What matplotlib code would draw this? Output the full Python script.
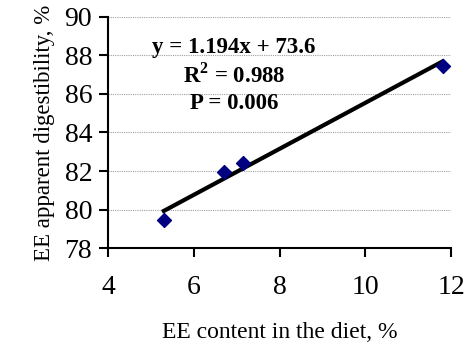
import matplotlib
matplotlib.use("Agg")
import matplotlib.pyplot as plt
import numpy as np

# data
ee_content = [5.3, 6.7, 7.15, 11.8]
ee_digest = [79.45, 81.95, 82.4, 87.45]
slope = 1.194
intercept = 73.6
x_ticks = [4, 6, 8, 10, 12]
y_ticks = [78, 80, 82, 84, 86, 88, 90]

plt.rcParams["font.family"] = ["Liberation Serif", "DejaVu Serif"]
plt.rcParams["mathtext.fontset"] = "custom"
plt.rcParams["mathtext.rm"] = "Liberation Serif"
plt.rcParams["mathtext.bf"] = "Liberation Serif:bold"

fig = plt.figure(figsize=(4.66, 3.45), dpi=100)
ax = fig.add_axes([0.232, 0.281, 0.736, 0.670])

for y in y_ticks[1:]:
    ax.axhline(y, color="#a0a0a0", linestyle=(0, (1, 1)), linewidth=0.8, zorder=0)

x_fit = np.array([min(ee_content), max(ee_content)])
ax.plot(x_fit, slope * x_fit + intercept, color="black", linewidth=3, zorder=2)
ax.scatter(ee_content, ee_digest, marker="D", s=50, color="#000080", zorder=3)

ax.set_xlim(4, 12)
ax.set_ylim(78, 90)
ax.set_xticks(x_ticks)
ax.set_yticks(y_ticks)
ax.tick_params(axis="both", labelsize=20, width=1.5, length=6.5, direction="out")
ax.tick_params(axis="x", pad=13)
ax.tick_params(axis="y", pad=5)
ax.spines["top"].set_visible(False)
ax.spines["right"].set_visible(False)
ax.spines["left"].set_linewidth(1.5)
ax.spines["bottom"].set_linewidth(1.5)

ax.set_xlabel("EE content in the diet, %", fontsize=17, labelpad=16)
ax.set_ylabel("EE apparent digestibility, %", fontsize=16.5, labelpad=7)

ax.text(6.94, 88.4, f"y = {slope}x + {intercept}", fontsize=16.5, fontweight="bold",
        ha="center", va="center")
ax.text(6.94, 86.95, r"R$^\mathbf{2}$ = 0.988", fontsize=16.5, fontweight="bold",
        ha="center", va="center")
ax.text(6.94, 85.5, "P = 0.006", fontsize=16.5, fontweight="bold",
        ha="center", va="center")

fig.savefig("out.png", dpi=100)
